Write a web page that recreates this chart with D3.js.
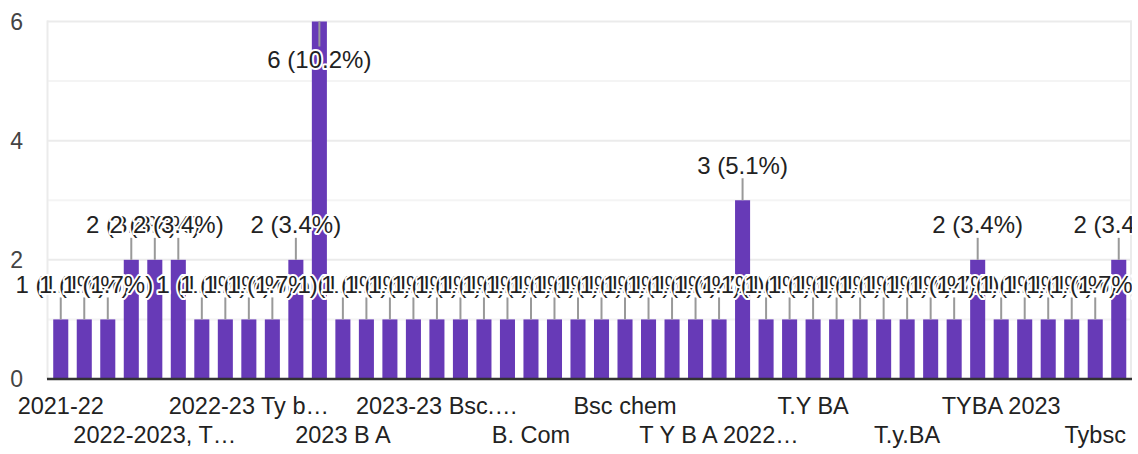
<!DOCTYPE html>
<html>
<head>
<meta charset="utf-8">
<script src="https://cdn.jsdelivr.net/npm/d3@7"></script>
<style>
  html, body { margin: 0; padding: 0; background: #fff; }
  svg { display: block; font-family: "Liberation Sans", Arial, sans-serif; }
</style>
</head>
<body>
<svg id="chart" width="1138" height="454"></svg>
<script>
const categories = [
  "2021-22", "2021-2022", "2022", "2022-2023", "2022-2023, TYBA",
  "2022-23", "2022-23 BA", "2022-23 Bsc", "2022-23 Ty bsc chemistry", "2022-23 TYBA",
  "2022-24", "2023", "2023 B A", "2023 BA", "2023 Bsc",
  "2023 TYBA", "2023-23 Bsc.Chemistry", "2023-24", "B A", "B A 2023",
  "B. Com", "BA", "BA 2023", "BSc", "Bsc chem",
  "Bsc Chemistry", "Commerce", "Final year", "T Y B A 2022 - 2023", "T.Y.B.A",
  "T.Y. BA 2023", "T.Y.B.Sc", "T.Y BA", "T.Y BCom", "T.Y BSc",
  "T.y.b.a", "T.y.BA", "Third year", "TY BA", "TYBA",
  "TYBA 2023", "TYBCom", "TYBSc", "Ty B.A", "Tybsc",
  "Tyba"
];
const counts = [
  1, 1, 1, 2, 2,
  2, 1, 1, 1, 1,
  2, 6, 1, 1, 1,
  1, 1, 1, 1, 1,
  1, 1, 1, 1, 1,
  1, 1, 1, 1, 3,
  1, 1, 1, 1, 1,
  1, 1, 1, 1, 2,
  1, 1, 1, 1, 1,
  2
];
const yTicks = [0, 2, 4, 6];
const gridValues = [1, 2, 3, 4, 5, 6];

const total = d3.sum(counts);
const data = categories.map((c, i) => ({ cat: c, v: counts[i] }));

const svg = d3.select("#chart");
const plot = { left: 49, right: 1130.5, top: 21.5, bottom: 379 };

svg.append("defs").append("clipPath").attr("id", "annClip")
  .append("rect").attr("x", 0).attr("y", 0).attr("width", 1132).attr("height", 454);

const x = d3.scaleBand().domain(categories).range([plot.left, plot.right]).paddingInner(0.36).paddingOuter(0.18);
const y = d3.scaleLinear().domain([0, 6]).range([plot.bottom, plot.top]);

// gridlines
svg.append("g").selectAll("line").data(gridValues).join("line")
  .attr("x1", 47).attr("x2", 1132)
  .attr("y1", d => y(d)).attr("y2", d => y(d))
  .attr("stroke", d => d % 2 === 0 ? "#ebebeb" : "#f4f4f4")
  .attr("stroke-width", 2);

// side frame lines
svg.append("line").attr("x1", 47.5).attr("x2", 47.5).attr("y1", y(6) - 1).attr("y2", plot.bottom)
  .attr("stroke", "#ebebeb").attr("stroke-width", 2);
svg.append("line").attr("x1", 1131).attr("x2", 1131).attr("y1", y(6) - 1).attr("y2", plot.bottom)
  .attr("stroke", "#ebebeb").attr("stroke-width", 2);

// y tick labels
svg.append("g").selectAll("text").data(yTicks).join("text")
  .attr("x", 23).attr("y", d => y(d))
  .attr("text-anchor", "end").attr("dominant-baseline", "central")
  .attr("font-size", 23).attr("fill", "#444")
  .text(d => d);

// bars
svg.append("g").selectAll("rect").data(data).join("rect")
  .attr("x", d => x(d.cat)).attr("width", x.bandwidth())
  .attr("y", d => y(d.v)).attr("height", d => y(0) - y(d.v))
  .attr("fill", "#673ab7");

// baseline axis
svg.append("line").attr("x1", 47).attr("x2", 1132)
  .attr("y1", 379).attr("y2", 379)
  .attr("stroke", "#333").attr("stroke-width", 2.5);

// annotations
const fs = 24;
const ann = svg.append("g").attr("clip-path", "url(#annClip)");
data.forEach(d => {
  const cx = x(d.cat) + x.bandwidth() / 2;
  const top = y(d.v);
  const inside = top - 27 - fs * 0.75 < 0;
  const label = `${d.v} (${(d.v / total * 100).toFixed(1)}%)`;
  ann.append("line").attr("x1", cx).attr("x2", cx)
    .attr("y1", top).attr("y2", inside ? top + 25 : top - 22)
    .attr("stroke", "#999").attr("stroke-width", 2);
  ann.append("text").attr("x", cx).attr("y", inside ? top + 46 : top - 26.5)
    .attr("text-anchor", "middle").attr("font-size", fs)
    .attr("fill", "#222").attr("stroke", "#fff").attr("stroke-width", 4)
    .attr("stroke-linejoin", "round").attr("paint-order", "stroke")
    .text(label);
});

// x labels: every 4th, alternating rows, truncated with ellipsis
const maxW = 168;
const xl = svg.append("g");
data.forEach((d, i) => {
  if (i % 4 !== 0) return;
  const row = (i / 4) % 2;
  const cx = x(d.cat) + x.bandwidth() / 2;
  const t = xl.append("text").attr("x", cx).attr("y", row === 0 ? 414 : 443)
    .attr("text-anchor", "middle").attr("font-size", 23.5).attr("fill", "#222")
    .text(d.cat);
  if (t.node().getComputedTextLength() > maxW) {
    let s = d.cat;
    while (s.length > 1) {
      s = s.slice(0, -1);
      t.text(s.trimEnd() + "\u2026");
      if (t.node().getComputedTextLength() <= maxW) break;
    }
  }
});
</script>
</body>
</html>
